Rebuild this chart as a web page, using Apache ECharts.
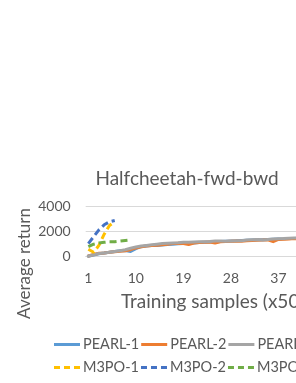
<!DOCTYPE html>
<html><head><meta charset="utf-8">
<script src="https://cdn.jsdelivr.net/npm/echarts@6/dist/echarts.min.js"></script>
<style>html,body{margin:0;padding:0;overflow:hidden;background:#fff;width:296px;height:383px}#c{width:400px;height:383px}</style>
</head><body><div id="c"></div>
<script>
var categories = [];
for (var i = 1; i <= 50; i++) categories.push(String(i));
var yTicks = [0, 2000, 4000];
var pearl1 = [40,140,240,290,360,420,470,500,420,650,800,860,900,900,940,980,1000,1040,1060,1080,1100,1130,1160,1180,1200,1220,1240,1260,1270,1290,1310,1330,1350,1360,1380,1400,1420,1430,1450,1460,1470,1480,1490,1500,1500,1510,1520,1530,1540,1550];
var pearl2 = [60,180,270,300,350,400,430,480,560,700,800,850,900,920,960,1000,1050,1080,1060,980,1100,1130,1150,1170,1100,1200,1210,1230,1250,1240,1280,1300,1320,1330,1350,1200,1380,1400,1420,1450,1440,1460,1470,1480,1500,1490,1510,1520,1530,1540];
var pearl3 = [50,150,250,300,350,420,480,560,680,780,850,900,950,1000,1050,1080,1100,1120,1150,1150,1180,1200,1200,1220,1250,1250,1230,1260,1280,1270,1330,1350,1370,1340,1380,1420,1440,1450,1480,1490,1500,1510,1500,1520,1530,1540,1530,1550,1560,1570];
var m3po1 = [600,350,900,1800,2500,2800];
var m3po2 = [1050,1600,2150,2550,2800,2900];
var m3po3 = [800,1000,1100,1150,1200,1200,1250,1300,1350];

var chart = echarts.init(document.getElementById('c'), null, {renderer:'canvas'});
var FONT = 'Lato';
var TXT = '#595959';
var SOLID_ICON = 'path://M0,0h26v3h-26z';
var DASH_ICON = 'path://M0,0h6v3h-6z M10,0h6v3h-6z M20,0h6v3h-6z';
function solid(name, data, color) {
  return {name:name, type:'line', data:data, symbol:'none', showSymbol:false,
    lineStyle:{color:color, width:3, cap:'round', join:'round'}, itemStyle:{color:color}};
}
function dashed(name, data, color) {
  return {name:name, type:'line', data:data, symbol:'none', showSymbol:false,
    lineStyle:{color:color, width:3, type:[7,4]}, itemStyle:{color:color}};
}
var legendCommon = {
  left: 54, orient:'horizontal', padding:0, itemWidth:26, itemHeight:3, itemGap:2,
  textStyle:{color:TXT, fontFamily:FONT, fontSize:14.5, width:53, padding:[0,0,0,-2]}
};
chart.setOption({
  animation:false,
  title:{text:'Halfcheetah-fwd-bwd', left:182, top:164, textAlign:'center',
    textStyle:{color:TXT, fontFamily:FONT, fontSize:19, fontWeight:'normal'}},
  grid:{left:85.7, top:206.7, width:264, height:50, containLabel:false},
  legend:[
    Object.assign({}, legendCommon, {top:337, data:[
      {name:'PEARL-1', icon:SOLID_ICON},{name:'PEARL-2', icon:SOLID_ICON},{name:'PEARL-3', icon:SOLID_ICON}]}),
    Object.assign({}, legendCommon, {top:360, data:[
      {name:'M3PO-1', icon:DASH_ICON},{name:'M3PO-2', icon:DASH_ICON},{name:'M3PO-3', icon:DASH_ICON}]})
  ],
  xAxis:{type:'category', data:categories, boundaryGap:true,
    axisLine:{lineStyle:{color:'#d9d9d9', width:1}}, axisTick:{show:false},
    axisLabel:{interval:8, color:TXT, fontFamily:FONT, fontSize:14, margin:15},
    name:'Training samples (x5000)', nameLocation:'middle', nameGap:36,
    nameTextStyle:{color:TXT, fontFamily:FONT, fontSize:19, padding:[0,0,0,12]}},
  yAxis:{type:'value', min:yTicks[0], max:yTicks[2], interval:2000,
    axisLine:{show:false}, axisTick:{show:false},
    splitLine:{lineStyle:{color:'#d9d9d9', width:1}},
    axisLabel:{color:TXT, fontFamily:FONT, fontSize:14, margin:15,
      formatter:function(v){return String(v);}}},
  graphic:[{type:'text', left:16, top:208, rotation:Math.PI/2,
    style:{text:'Average return', fill:TXT, font:'17px Lato'}}],
  series:[
    solid('PEARL-1', pearl1, '#5B9BD5'),
    solid('PEARL-2', pearl2, '#ED7D31'),
    solid('PEARL-3', pearl3, '#A5A5A5'),
    dashed('M3PO-1', m3po1, '#FFC000'),
    dashed('M3PO-2', m3po2, '#4472C4'),
    dashed('M3PO-3', m3po3, '#70AD47')
  ]
});
</script></body></html>
